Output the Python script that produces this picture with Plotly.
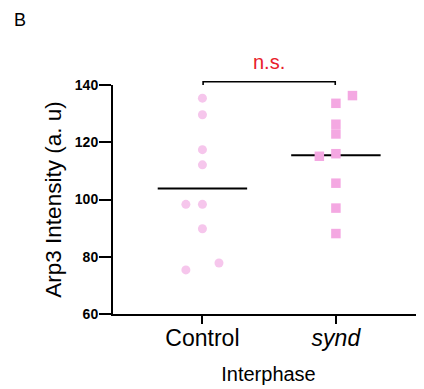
import plotly.graph_objects as go

categories = ["Control", "<i>synd</i>"]
control_x = [1.0, 1.0, 1.0, 1.0, 0.876, 1.0, 1.0, 1.124, 0.876]
control_y = [135.4, 129.6, 117.4, 112.1, 98.3, 98.3, 89.8, 77.8, 75.4]
synd_x = [2.124, 2.0, 2.0, 2.0, 2.0, 1.876, 2.0, 2.0, 2.0]
synd_y = [136.3, 133.6, 126.3, 122.9, 116.0, 115.1, 105.7, 97.0, 88.1]
means = [103.8, 115.5]
yticks = [60, 80, 100, 120, 140]
ytick_text = ["<b>%d</b>" % v for v in yticks]

FONT = "Liberation Sans, Arial, sans-serif"

fig = go.Figure()
for i, m in enumerate(means):
    fig.add_trace(go.Scatter(x=[i + 1 - 0.335, i + 1 + 0.335], y=[m, m], mode="lines",
                             line=dict(color="black", width=2), showlegend=False, hoverinfo="skip"))
fig.add_trace(go.Scatter(x=control_x, y=control_y, mode="markers",
                         marker=dict(symbol="circle", size=9, color="#F6C6EC"),
                         showlegend=False, cliponaxis=False))
fig.add_trace(go.Scatter(x=synd_x, y=synd_y, mode="markers",
                         marker=dict(symbol="square", size=9.5, color="#F4A8E2"),
                         showlegend=False, cliponaxis=False))

# significance bracket
fig.add_shape(type="path", xref="x", yref="paper",
              path="M 1.005,1.0 L 1.005,1.0144 L 1.995,1.0144 L 1.995,1.0",
              line=dict(color="black", width=1.6))
fig.add_annotation(x=1.5, y=1.1015, xref="x", yref="paper", text="n.s.", showarrow=False,
                   yanchor="middle",
                   font=dict(family=FONT, size=20, color="#E8202A"))
fig.add_annotation(x=-0.3248, y=1.283, xref="paper", yref="paper", text="B",
                   showarrow=False, xanchor="left", yanchor="middle",
                   font=dict(family=FONT, size=18, color="black"))

# page body has an 8px default margin, so the figure is offset by 8px
fig.update_layout(
    width=424, height=389,
    margin=dict(l=105, r=8, t=77, b=82.5, autoexpand=False),
    paper_bgcolor="white", plot_bgcolor="white",
    font=dict(family=FONT, color="black"),
    xaxis=dict(range=[0.33, 2.66], tickvals=[1, 2], ticktext=categories,
               showline=True, linecolor="black", linewidth=2,
               ticks="outside", ticklen=8, tickwidth=2, tickcolor="black",
               ticklabelstandoff=-6,
               tickfont=dict(family=FONT, size=23), showgrid=False, zeroline=False,
               title=dict(text="Interphase", font=dict(family=FONT, size=20), standoff=17)),
    yaxis=dict(range=[60, 140], tickvals=yticks, ticktext=ytick_text,
               showline=True, linecolor="black", linewidth=2,
               ticks="outside", ticklen=12, tickwidth=2, tickcolor="black",
               ticklabelstandoff=-2,
               tickfont=dict(family=FONT, size=14), showgrid=False, zeroline=False,
               title=dict(text="Arp3 Intensity (a. u)", font=dict(family=FONT, size=22.5), standoff=7)),
)

fig.write_html("out.html")
